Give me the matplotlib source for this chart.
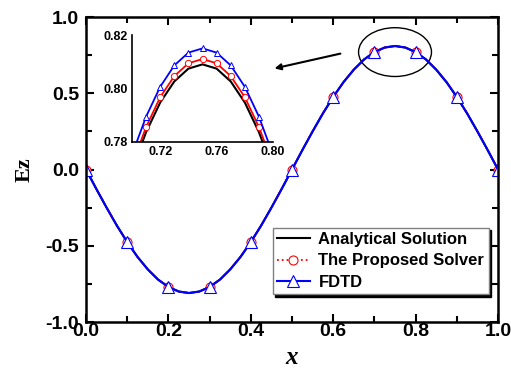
import matplotlib
matplotlib.use('Agg')
import matplotlib.pyplot as plt
from matplotlib.patches import Ellipse
from matplotlib.ticker import MultipleLocator

plt.rcParams['axes.unicode_minus'] = False

# main curve (sampled every 0.025), markers every 0.1
x_main = [i * 0.025 for i in range(41)]
ez_main = [0.0, -0.127, -0.250, -0.368, -0.476, -0.573, -0.655, -0.722, -0.770, -0.800,
           -0.810, -0.800, -0.770, -0.722, -0.655, -0.573, -0.476, -0.368, -0.250, -0.127,
           0.0, 0.127, 0.250, 0.368, 0.476, 0.573, 0.655, 0.722, 0.770, 0.800,
           0.810, 0.800, 0.770, 0.722, 0.655, 0.573, 0.476, 0.368, 0.250, 0.127, 0.0]

# zoom around the peak
x_zoom = [0.70, 0.71, 0.72, 0.73, 0.74, 0.75, 0.76, 0.77, 0.78, 0.79, 0.80]
ez_analytical = [0.7694, 0.7836, 0.7947, 0.8026, 0.8074, 0.8090, 0.8074, 0.8026, 0.7947, 0.7836, 0.7694]
ez_proposed = [0.7713, 0.7855, 0.7967, 0.8046, 0.8094, 0.8110, 0.8094, 0.8046, 0.7967, 0.7855, 0.7713]
ez_fdtd = [0.7751, 0.7894, 0.8006, 0.8086, 0.8134, 0.8150, 0.8134, 0.8086, 0.8006, 0.7894, 0.7751]

labels = ['Analytical Solution', 'The Proposed Solver', 'FDTD']

sans = 'Liberation Sans'
serif = 'Liberation Serif'

fig = plt.figure(figsize=(5.11, 3.75), dpi=100)
ax = fig.add_axes([0.1683, 0.1413, 0.8063, 0.8133])

ax.plot(x_main, ez_main, color='black', lw=1.5, label=labels[0])
ax.plot(x_main, ez_main, color='red', lw=1.3, ls=':', marker='o', markevery=4,
        ms=6.5, mfc='white', mec='red', mew=0.8, label=labels[1])
ax.plot(x_main, ez_main, color='blue', lw=1.5, marker='^', markevery=4,
        ms=8, mfc='white', mec='blue', mew=0.8, label=labels[2])

ax.set_xlim(0, 1.0)
ax.set_ylim(-1.0, 1.0)
ax.xaxis.set_major_locator(MultipleLocator(0.2))
ax.xaxis.set_minor_locator(MultipleLocator(0.1))
ax.yaxis.set_major_locator(MultipleLocator(0.5))
ax.yaxis.set_minor_locator(MultipleLocator(0.25))
ax.tick_params(which='both', direction='in', top=True, right=True, width=1.5)
ax.tick_params(which='major', length=6)
ax.tick_params(which='minor', length=4)
for s in ax.spines.values():
    s.set_linewidth(1.8)
for t in ax.get_xticklabels() + ax.get_yticklabels():
    t.set_fontfamily(sans)
    t.set_fontweight('bold')
    t.set_fontsize(14)
ax.tick_params(axis='x', pad=1)
ax.tick_params(axis='y', pad=5)

ax.set_xlabel('x', fontfamily=serif, fontstyle='italic', fontweight='bold', fontsize=18, labelpad=4)
ax.set_ylabel('Ez', fontfamily=serif, fontweight='bold', fontsize=16, labelpad=8)

leg = ax.legend(loc='lower right', bbox_to_anchor=(0.985, 0.08), fancybox=False,
                shadow={'color': 'black', 'alpha': 1.0}, edgecolor='gray', framealpha=1,
                prop={'family': sans, 'weight': 'bold', 'size': 12},
                handlelength=2.0, borderpad=0.25, labelspacing=0.4, handletextpad=0.5,
                borderaxespad=0.2)
leg.get_frame().set_linewidth(1.0)

# ellipse and arrow pointing to the zoomed view
ax.add_patch(Ellipse((0.75, 0.77), 0.177, 0.32, fill=False, edgecolor='black', lw=1.0))
ax.annotate('', xy=(0.451, 0.659), xytext=(0.624, 0.764),
            arrowprops=dict(arrowstyle='-|>', color='black', lw=1.5, mutation_scale=9))

# inset
ins = fig.add_axes([0.2583, 0.6221, 0.276, 0.2845])
ins.plot(x_zoom, ez_analytical, color='black', lw=1.5)
ins.plot(x_zoom, ez_proposed, color='red', lw=1.3, marker='o', ms=4.5, mfc='white', mec='red', mew=0.7)
ins.plot(x_zoom, ez_fdtd, color='blue', lw=1.3, marker='^', ms=5, mfc='white', mec='blue', mew=0.7)
ins.set_xlim(0.70, 0.80)
ins.set_ylim(0.78, 0.82)
ins.set_xticks([0.72, 0.76, 0.80])
ins.set_yticks([0.78, 0.80, 0.82])
ins.set_xticklabels(['0.72', '0.76', '0.80'])
ins.set_yticklabels(['0.78', '0.80', '0.82'])
ins.spines['top'].set_visible(False)
ins.spines['right'].set_visible(False)
ins.spines['left'].set_linewidth(1.2)
ins.spines['bottom'].set_linewidth(1.2)
ins.tick_params(length=0, pad=3)
for t in ins.get_xticklabels() + ins.get_yticklabels():
    t.set_fontfamily(sans)
    t.set_fontweight('bold')
    t.set_fontsize(9)

fig.savefig('out.png', dpi=100)
